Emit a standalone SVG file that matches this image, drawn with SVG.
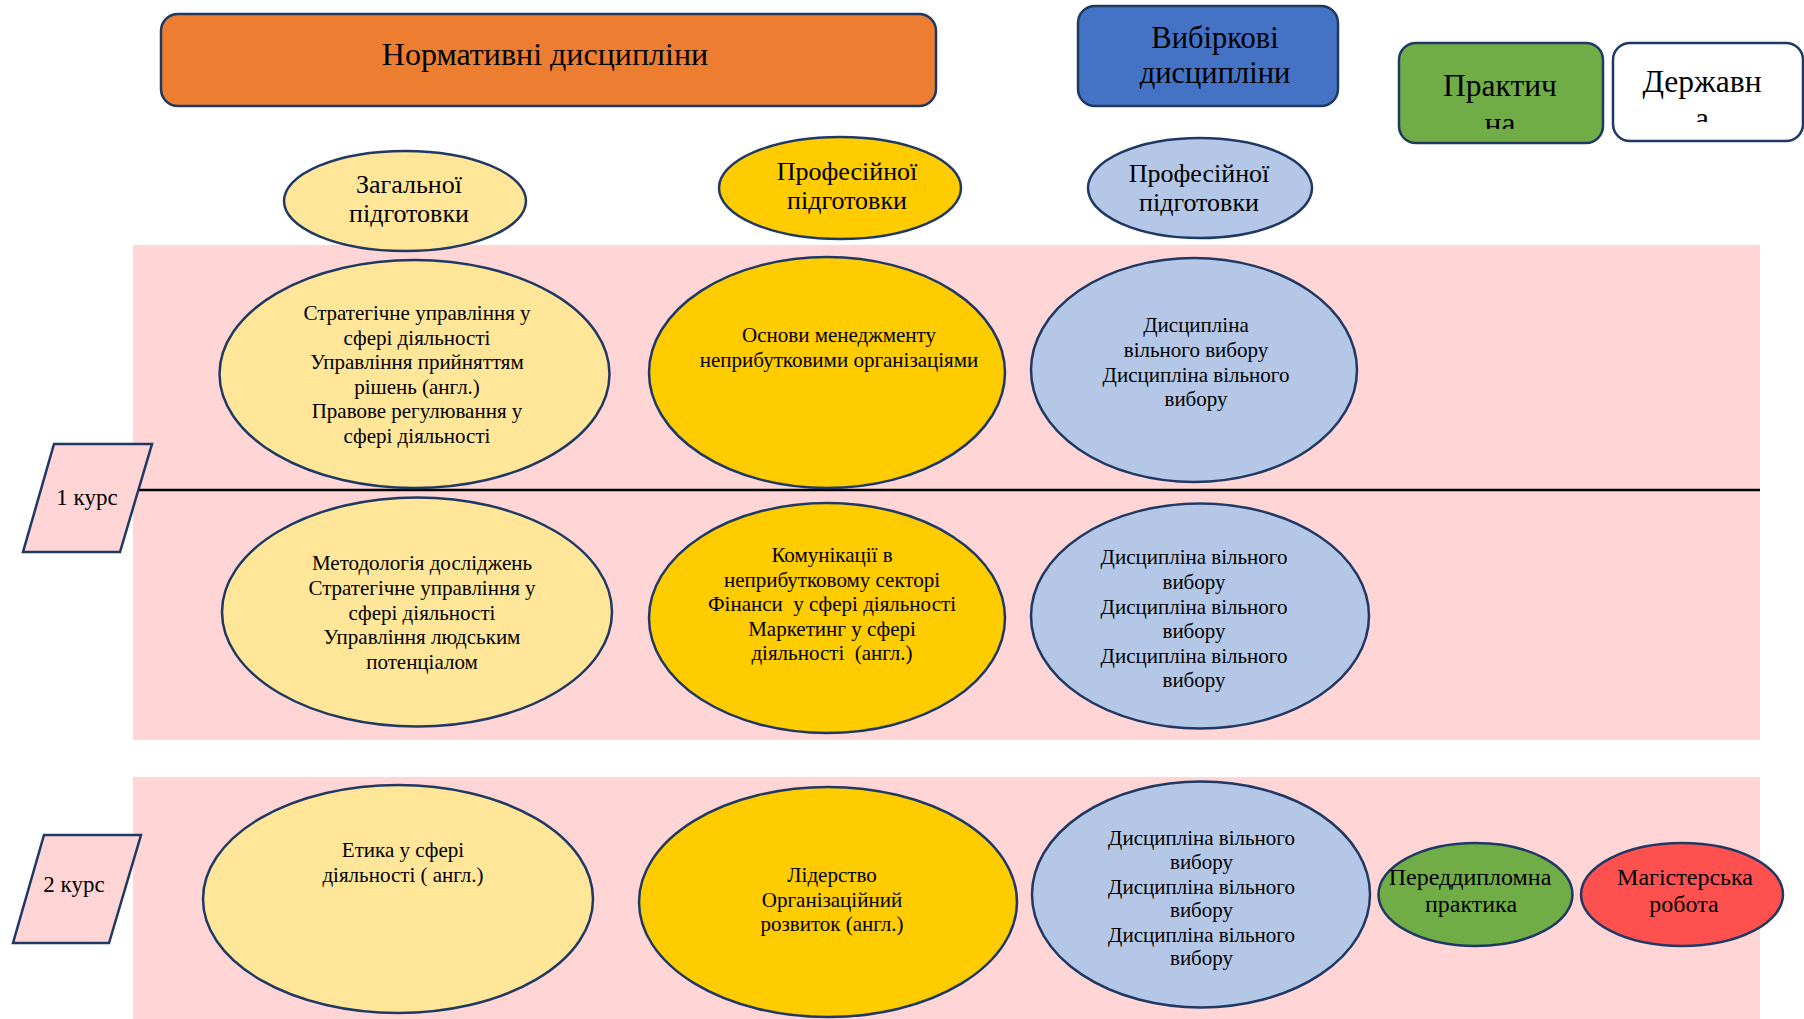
<svg xmlns="http://www.w3.org/2000/svg" width="1804" height="1019" viewBox="0 0 1804 1019">
<style>
  .t { font-family: "Liberation Serif", "Times New Roman", serif; fill: #000; text-anchor: middle; }
  .s { stroke: #1F3864; stroke-width: 2.5; }
  .band { fill: #FFD5D5; }
  .lt { fill: #FFE699; }
  .gd { fill: #FFCC00; }
  .bl { fill: #B4C7E7; }
  .body { font-size: 21px; }
  .hdr { font-size: 26px; }
  .big { font-size: 32px; }
</style>
<defs>
  <clipPath id="clipPr"><rect x="1399" y="43" width="204" height="86"/></clipPath>
  <clipPath id="clipDr"><rect x="1613" y="43" width="191" height="79"/></clipPath>
</defs>
<rect width="1804" height="1019" fill="#FFFFFF"/>

<g id="bands">
  <rect class="band" x="133" y="245" width="1627" height="495"/>
  <rect class="band" x="133" y="777" width="1627" height="242"/>
</g>

<g id="connectors">
  <line x1="138" y1="490" x2="1760" y2="490" stroke="#000" stroke-width="2.5"/>
</g>

<g id="normative">
  <rect class="s" x="161" y="14" width="775" height="92" rx="17" fill="#ED7D31"/>
  <text class="t big" x="545" y="65">Нормативні дисципліни</text>
</g>

<g id="elective">
  <rect class="s" x="1078" y="6" width="260" height="100" rx="17" fill="#4472C4"/>
  <text class="t" font-size="30.5" x="1215" y="48">Вибіркові</text>
  <text class="t" font-size="30.5" x="1215" y="83">дисципліни</text>
</g>

<g id="practice">
  <rect class="s" x="1399" y="43" width="204" height="100" rx="17" fill="#70AD47"/>
  <g clip-path="url(#clipPr)">
    <text class="t" font-size="31.5" x="1500" y="96">Практич</text>
    <text class="t" font-size="31.5" x="1500" y="134">на</text>
  </g>
</g>

<g id="state">
  <rect class="s" x="1613" y="43" width="190" height="98" rx="17" fill="#FFFFFF"/>
  <g clip-path="url(#clipDr)">
    <text class="t" font-size="31.5" x="1702" y="92">Державн</text>
    <text class="t" font-size="31.5" x="1702" y="129">а</text>
  </g>
</g>

<g id="general-header">
  <ellipse class="s lt" cx="405" cy="201" rx="121" ry="50"/>
  <text class="t hdr" x="409" y="193">Загальної</text>
  <text class="t hdr" x="409" y="222">підготовки</text>
</g>

<g id="prof-header">
  <ellipse class="s gd" cx="840" cy="188" rx="121" ry="51"/>
  <text class="t hdr" x="847" y="180">Професійної</text>
  <text class="t hdr" x="847" y="209">підготовки</text>
</g>

<g id="elective-header">
  <ellipse class="s bl" cx="1200" cy="188" rx="112" ry="50"/>
  <text class="t hdr" x="1199" y="182">Професійної</text>
  <text class="t hdr" x="1199" y="211">підготовки</text>
</g>

<g id="course1">
  <polygon class="s" points="54,444 152,444 120,552 23,552" fill="#FFD5D5"/>
  <text class="t" font-size="23" x="87" y="505">1 курс</text>
</g>

<g id="course2">
  <polygon class="s" points="44,835 141,835 109,943 13,943" fill="#FFD5D5"/>
  <text class="t" font-size="23" x="74" y="892">2 курс</text>
</g>

<g id="gen-1a">
  <ellipse class="s lt" cx="414.5" cy="374" rx="195" ry="114"/>
  <text class="t body" x="417" y="320">Стратегічне управління у</text>
  <text class="t body" x="417" y="344.5">сфері діяльності</text>
  <text class="t body" x="417" y="369">Управління прийняттям</text>
  <text class="t body" x="417" y="393.5">рішень (англ.)</text>
  <text class="t body" x="417" y="418">Правове регулювання у</text>
  <text class="t body" x="417" y="442.5">сфері діяльності</text>
</g>

<g id="gen-1b">
  <ellipse class="s lt" cx="417" cy="612" rx="195" ry="114.5"/>
  <text class="t body" x="422" y="570">Методологія досліджень</text>
  <text class="t body" x="422" y="595">Стратегічне управління у</text>
  <text class="t body" x="422" y="619.5">сфері діяльності</text>
  <text class="t body" x="422" y="644">Управління людським</text>
  <text class="t body" x="422" y="668.5">потенціалом</text>
</g>

<g id="gen-2">
  <ellipse class="s lt" cx="398" cy="899" rx="195" ry="114"/>
  <text class="t body" x="403" y="857">Етика у сфері</text>
  <text class="t body" x="403" y="882">діяльності ( англ.)</text>
</g>

<g id="prof-1a">
  <ellipse class="s gd" cx="827" cy="372.5" rx="178" ry="115.5"/>
  <text class="t body" x="839" y="342">Основи менеджменту</text>
  <text class="t body" x="839" y="367">неприбутковими організаціями</text>
</g>

<g id="prof-1b">
  <ellipse class="s gd" cx="827" cy="618" rx="178" ry="115"/>
  <text class="t body" x="832" y="562">Комунікації в</text>
  <text class="t body" x="832" y="587">неприбутковому секторі</text>
  <text class="t body" x="832" y="611" xml:space="preserve">Фінанси  у сфері діяльності</text>
  <text class="t body" x="832" y="636">Маркетинг у сфері</text>
  <text class="t body" x="832" y="660" xml:space="preserve">діяльності  (англ.)</text>
</g>

<g id="prof-2">
  <ellipse class="s gd" cx="828" cy="902" rx="189" ry="115"/>
  <text class="t body" x="832" y="882">Лідерство</text>
  <text class="t body" x="832" y="907">Організаційний</text>
  <text class="t body" x="832" y="931">розвиток (англ.)</text>
</g>

<g id="elec-1a">
  <ellipse class="s bl" cx="1194" cy="370" rx="163" ry="112"/>
  <text class="t body" x="1196" y="332">Дисципліна</text>
  <text class="t body" x="1196" y="357">вільного вибору</text>
  <text class="t body" x="1196" y="382">Дисципліна вільного</text>
  <text class="t body" x="1196" y="406">вибору</text>
</g>

<g id="elec-1b">
  <ellipse class="s bl" cx="1200" cy="616" rx="169" ry="112.5"/>
  <text class="t body" x="1194" y="564">Дисципліна вільного</text>
  <text class="t body" x="1194" y="588.5">вибору</text>
  <text class="t body" x="1194" y="613.5">Дисципліна вільного</text>
  <text class="t body" x="1194" y="637.5">вибору</text>
  <text class="t body" x="1194" y="662.5">Дисципліна вільного</text>
  <text class="t body" x="1194" y="687">вибору</text>
</g>

<g id="elec-2">
  <ellipse class="s bl" cx="1201" cy="894.5" rx="169" ry="113"/>
  <text class="t body" x="1201.5" y="845">Дисципліна вільного</text>
  <text class="t body" x="1201.5" y="868.5">вибору</text>
  <text class="t body" x="1201.5" y="893.5">Дисципліна вільного</text>
  <text class="t body" x="1201.5" y="917">вибору</text>
  <text class="t body" x="1201.5" y="942">Дисципліна вільного</text>
  <text class="t body" x="1201.5" y="965">вибору</text>
</g>

<g id="pre-diploma">
  <ellipse class="s" cx="1475.5" cy="894.5" rx="97" ry="51.5" fill="#70AD47"/>
  <text class="t" font-size="24" x="1470" y="885">Переддипломна</text>
  <text class="t" font-size="24" x="1471" y="911.5">практика</text>
</g>

<g id="masters">
  <ellipse class="s" cx="1682" cy="894.5" rx="101" ry="51.5" fill="#FF5050"/>
  <text class="t" font-size="24" x="1685" y="885">Магістерська</text>
  <text class="t" font-size="24" x="1684" y="911.5">робота</text>
</g>
</svg>
